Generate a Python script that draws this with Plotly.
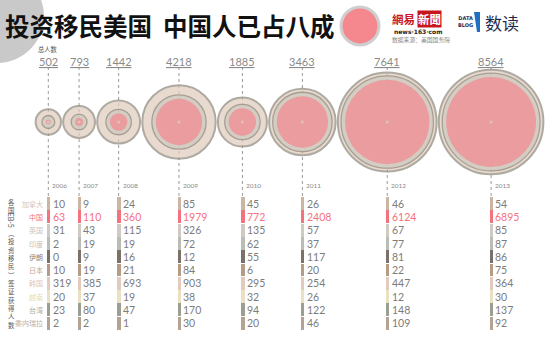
import numpy as np
import plotly.graph_objects as go

# ---- data -------------------------------------------------------------
years = ["2006", "2007", "2008", "2009", "2010", "2011", "2012", "2013"]
totals = [502, 793, 1442, 4218, 1885, 3463, 7641, 8564]

countries = ["加拿大", "中国", "英国", "印度", "伊朗", "日本", "韩国", "越南", "台湾", "委内瑞拉"]
canada = [10, 9, 24, 85, 45, 26, 46, 54]
china = [63, 110, 360, 1979, 772, 2408, 6124, 6895]
uk = [31, 43, 115, 326, 135, 57, 67, 85]
india = [2, 19, 19, 72, 62, 37, 77, 87]
iran = [0, 9, 16, 12, 55, 117, 81, 86]
japan = [10, 19, 21, 84, 6, 20, 22, 75]
korea = [319, 385, 693, 903, 295, 254, 447, 364]
vietnam = [20, 37, 19, 38, 32, 26, 12, 30]
taiwan = [23, 80, 47, 170, 94, 122, 148, 137]
venezuela = [2, 2, 1, 30, 20, 46, 109, 92]
rows = [canada, china, uk, india, iran, japan, korea, vietnam, taiwan, venezuela]

row_colors = ["#cbb6a3", "#f4727d", "#cfcbc3", "#b9bdb5", "#7b716a",
              "#b49d84", "#e2cabe", "#e9e1c2", "#9a9f92", "#b4a392"]
label_colors = ["#d6c4b4", "#f4727d", "#c9c5bd", "#bfc2bb", "#8b827a",
                "#c0aa92", "#e0c6ba", "#e6dcb4", "#a9ada2", "#c2ae9c"]

# ---- geometry ---------------------------------------------------------
W, H = 550, 341
k = 0.565            # px of radius per sqrt(person)
gap = 2.2
cy = 122
R = [k * np.sqrt(t) for t in totals]
cx = [48.3]
for i in range(1, len(totals)):
    cx.append(cx[-1] + R[i - 1] + R[i] + gap)
Rc = [k * np.sqrt(c) for c in china]

table_top, row_h = 197.0, 13.3
bar_w = 3.4

fig = go.Figure()

# dotted guide lines from the total down to the table
for x in cx:
    fig.add_trace(go.Scatter(x=[x, x], y=[67, table_top], mode="lines",
                             line=dict(color="#9a9a9a", width=1, dash="dot"),
                             hoverinfo="skip", showlegend=False))

# bubbles: total, China ring, China core, centre dot
fig.add_trace(go.Scatter(x=cx, y=[cy] * 8, mode="markers", showlegend=False,
                         marker=dict(size=[2 * r for r in R], color="#dfcbbc",
                                     line=dict(color="#8d877b", width=2))))
fig.add_trace(go.Scatter(x=cx, y=[cy] * 8, mode="markers", showlegend=False,
                         marker=dict(size=[2 * (r + 2) for r in Rc], color="#ccc8c0",
                                     line=dict(color="#8d877b", width=1.3))))
fig.add_trace(go.Scatter(x=cx, y=[cy] * 8, mode="markers", showlegend=False,
                         marker=dict(size=[2 * max(r - 2, 2.2) for r in Rc],
                                     color="#f4888e", line=dict(width=0))))
fig.add_trace(go.Scatter(x=cx, y=[cy] * 8, mode="markers", showlegend=False,
                         marker=dict(size=3, color="#d9c5b3", line=dict(width=0))))

# table colour strips
for i, vals in enumerate(rows):
    fig.add_trace(go.Bar(x=[x + 0.4 for x in cx], y=[row_h - 0.4] * 8,
                         base=[table_top + i * row_h] * 8, width=bar_w,
                         marker=dict(color=row_colors[i], line=dict(width=0)),
                         showlegend=False, hoverinfo="skip"))

ann = []
num_font = "Lato, Open Sans, sans-serif"
cjk = "Noto Sans CJK SC"

# table numbers and row names
for i, vals in enumerate(rows):
    for j, v in enumerate(vals):
        ann.append(dict(x=cx[j] + 2.3, y=table_top + (i + 0.5) * row_h, text=str(v),
                        xanchor="left", yanchor="middle", showarrow=False,
                        font=dict(family=num_font, size=10.5,
                                  color="#f4727d" if i == 1 else "#7c7c7c")))
    ann.append(dict(x=44.5, y=table_top + (i + 0.5) * row_h, text=countries[i],
                    xanchor="right", yanchor="middle", showarrow=False,
                    font=dict(family=cjk, size=7, color=label_colors[i])))

# year labels and totals
for j in range(8):
    ann.append(dict(x=cx[j] + 2, y=185, text=years[j], xanchor="left", yanchor="middle",
                    showarrow=False, font=dict(family=num_font, size=6.5, color="#8a8a8a")))
    ann.append(dict(x=cx[j], y=61, text="<u>%d</u>" % totals[j], xanchor="center",
                    yanchor="middle", showarrow=False,
                    font=dict(family=num_font, size=11, color="#8a8a8a")))
ann.append(dict(x=48, y=49.5, text="总人数", xanchor="center", yanchor="middle",
                showarrow=False, font=dict(family=cjk, size=6.3, color="#555")))

# vertical axis title, written top to bottom (CJK upright, "EB-5" turned)
vt_size = 6.4
step = vt_size * 1.3
head = ["各", "国"]
tail = ["︵", "投", "资", "移", "民", "︶", "签", "证", "获", "得", "人", "数"]
y0 = 195.5
ann.append(dict(x=11, y=y0, text="<br>".join(head), xanchor="center", yanchor="top",
                showarrow=False, font=dict(family=cjk, size=vt_size, color="#555")))
y_eb = y0 + len(head) * step + 7.5
ann.append(dict(x=11, y=y_eb, text="EB-5", textangle=90, xanchor="center", yanchor="middle",
                showarrow=False, font=dict(family=num_font, size=7, color="#555")))
ann.append(dict(x=11, y=y_eb + 7.5, text="<br>".join(tail), xanchor="center", yanchor="top",
                showarrow=False, font=dict(family=cjk, size=vt_size, color="#555")))

# headline
ann.append(dict(x=3, y=25, text="<b>投资移民美国  中国人已占八成</b>", xanchor="left",
                yanchor="middle", showarrow=False,
                font=dict(family=cjk, size=24.5, color="#111")))

# masthead: 163 logo, source, data blog
ann.append(dict(x=390, y=18.5, text="<b>網易</b>", xanchor="left", yanchor="middle",
                showarrow=False, font=dict(family="Noto Sans CJK TC", size=11.5, color="#c8161d")))
ann.append(dict(x=417, y=18.5, text="<b>新聞</b>", xanchor="left", yanchor="middle",
                showarrow=False, bgcolor="#c8161d", borderpad=0,
                font=dict(family="Noto Sans CJK TC", size=11.5, color="#ffffff")))
ann.append(dict(x=418, y=31, text="<b>news·163·com</b>", xanchor="center", yanchor="middle",
                showarrow=False, font=dict(family="DejaVu Sans", size=6, color="#222")))
ann.append(dict(x=390, y=39.5, text="数据来源：美国国务院", xanchor="left", yanchor="middle",
                showarrow=False, font=dict(family=cjk, size=5.8, color="#888")))
ann.append(dict(x=465, y=21.5, text="<b>DATA<br>BLOG</b>", xanchor="center", yanchor="middle",
                showarrow=False, font=dict(family="DejaVu Sans", size=5, color="#1e2b4d")))
ann.append(dict(x=483, y=22, text="数读", xanchor="left", yanchor="middle",
                showarrow=False, font=dict(family=cjk, size=17, color="#1e2b4d")))

shapes = [
    # grey corner disc
    dict(type="circle", xref="x", yref="y", x0=-3 - 47, x1=-3 + 47, y0=16 - 47, y1=16 + 47,
         fillcolor="#c9c9c9", line=dict(width=0), layer="below"),
    # pink badge
    dict(type="circle", xref="x", yref="y", x0=341, x1=379, y0=7, y1=45,
         fillcolor="#f4888e", line=dict(color="#cfcfcf", width=3)),
    # data blog bracket
    dict(type="path", xref="x", yref="y", path="M 474 12 L 480 12 L 480 32 L 477 32 Z",
         fillcolor="#1f6fc5", line=dict(width=0)),
]

fig.update_layout(
    width=W, height=H, autosize=False,
    margin=dict(l=0, r=0, t=0, b=0),
    paper_bgcolor="#ffffff", plot_bgcolor="#ffffff",
    xaxis=dict(range=[0, W], visible=False, fixedrange=True),
    yaxis=dict(range=[H, 0], visible=False, fixedrange=True),
    barmode="overlay", bargap=0,
    annotations=ann, shapes=shapes,
    showlegend=False,
)

fig.write_html("out.html")
